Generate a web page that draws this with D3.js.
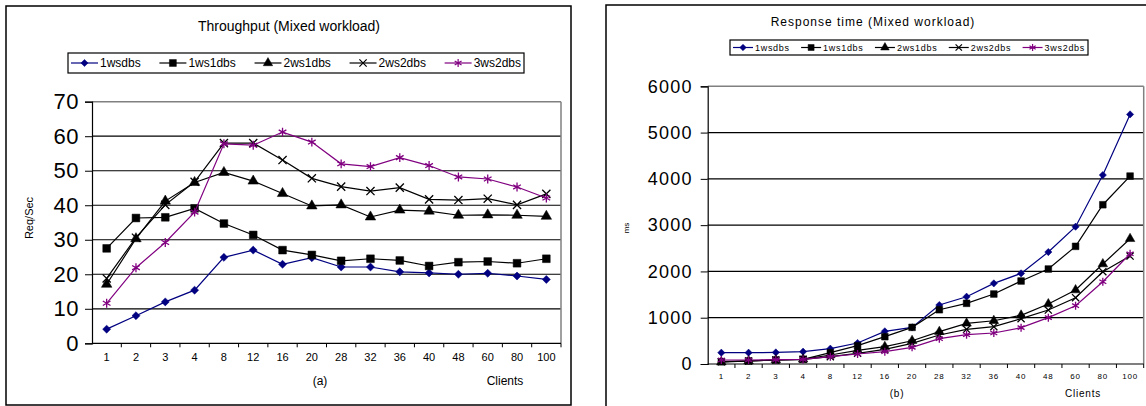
<!DOCTYPE html>
<html>
<head>
<meta charset="utf-8">
<script src="https://cdn.jsdelivr.net/npm/d3@7"></script>
<style>
body { margin: 0; background: #fff; }
svg { display: block; font-family: "Liberation Sans", Arial, sans-serif; }
</style>
</head>
<body>
<div id="chart"></div>
<script>
var clients = ["1","2","3","4","8","12","16","20","28","32","36","40","48","60","80","100"];
var seriesNames = ["1wsdbs","1ws1dbs","2ws1dbs","2ws2dbs","3ws2dbs"];

// throughput, req/sec
var tput1wsdbs  = [4.1, 8.0, 12.0, 15.4, 24.9, 27.0, 22.9, 24.8, 22.1, 22.1, 20.7, 20.4, 20.0, 20.3, 19.5, 18.5];
var tput1ws1dbs = [27.5, 36.3, 36.5, 39.1, 34.7, 31.4, 27.0, 25.6, 23.9, 24.5, 24.0, 22.4, 23.5, 23.7, 23.2, 24.5];
var tput2ws1dbs = [17.1, 30.3, 41.2, 46.6, 49.5, 47.0, 43.4, 39.8, 40.1, 36.6, 38.6, 38.3, 37.1, 37.2, 37.1, 36.8];
var tput2ws2dbs = [18.8, 30.6, 40.1, 46.8, 58.0, 58.0, 53.1, 47.8, 45.4, 44.1, 45.1, 41.7, 41.5, 41.9, 40.1, 43.3];
var tput3ws2dbs = [11.6, 21.9, 29.2, 38.0, 57.8, 57.4, 61.2, 58.3, 52.0, 51.2, 53.8, 51.5, 48.2, 47.6, 45.3, 42.1];
var tputTicks = [0, 10, 20, 30, 40, 50, 60, 70];

// response time, ms
var rt1wsdbs  = [244, 244, 250, 266, 331, 454, 706, 792, 1274, 1454, 1742, 1958, 2419, 2966, 4082, 5393];
var rt1ws1dbs = [50, 65, 86, 101, 244, 396, 590, 792, 1173, 1311, 1512, 1793, 2052, 2542, 3441, 4060];
var rt2ws1dbs = [40, 65, 86, 101, 194, 296, 374, 503, 698, 879, 935, 1052, 1296, 1598, 2160, 2706];
var rt2ws2dbs = [50, 65, 86, 101, 158, 231, 317, 447, 626, 749, 806, 979, 1166, 1432, 1994, 2333];
var rt3ws2dbs = [86, 86, 95, 100, 158, 216, 266, 360, 547, 633, 670, 785, 1001, 1260, 1778, 2383];
var rtTicks = [0, 1000, 2000, 3000, 4000, 5000, 6000];

var colors = ["#000080", "#000000", "#000000", "#000000", "#800080"];
// diamond is drawn as a square turned 45 degrees
var symbols = [d3.symbolSquare, d3.symbolSquare, d3.symbolTriangle, d3.symbolTimes, d3.symbolAsterisk];
var rotations = [45, 0, 0, 0, 0];
var filled = [true, true, true, false, false];

var svg = d3.select("#chart").append("svg")
	.attr("width", 1146)
	.attr("height", 406);

function drawChart(c) {
	var g = svg.append("g");

	// outer frame
	g.append("rect")
		.attr("x", c.frame[0]).attr("y", c.frame[1])
		.attr("width", c.frame[2]).attr("height", c.frame[3])
		.attr("fill", "none").attr("stroke", "#000").attr("stroke-width", 1.5);

	var x = d3.scaleBand().domain(clients).range([c.left, c.right]);
	var y = d3.scaleLinear().domain([0, c.ticks[c.ticks.length - 1]]).range([c.bottom, c.top]);

	// gridlines, the top one is the plot area border
	var last = c.ticks[c.ticks.length - 1];
	g.selectAll(".grid")
		.data(c.ticks.slice(1))
		.enter().append("line")
		.attr("x1", c.left).attr("x2", c.right)
		.attr("y1", function(d) { return y(d); })
		.attr("y2", function(d) { return y(d); })
		.attr("stroke", function(d) { return d === last ? "#808080" : "#000"; })
		.attr("stroke-width", function(d) { return d === last ? 1.5 : 1.2; });

	// plot area border (right side)
	g.append("line")
		.attr("x1", c.right).attr("x2", c.right)
		.attr("y1", c.top).attr("y2", c.bottom)
		.attr("stroke", "#808080").attr("stroke-width", 1.5);

	// y axis
	var yAxis = g.append("g")
		.attr("transform", "translate(" + c.left + ",0)")
		.call(d3.axisLeft(y).tickValues(c.ticks).tickFormat(d3.format("d")).tickSize(7).tickPadding(c.yPad));
	yAxis.select(".domain").attr("stroke", "#000").attr("stroke-width", 1.2);
	yAxis.selectAll("text")
		.attr("font-size", c.yFont)
		.attr("letter-spacing", c.yLs)
		.attr("fill", "#000");

	// x axis, ticks between categories
	var xAxis = g.append("g")
		.attr("transform", "translate(0," + c.bottom + ")");
	xAxis.append("line")
		.attr("x1", c.left).attr("x2", c.right)
		.attr("stroke", "#000").attr("stroke-width", 1.2);
	xAxis.selectAll(".tk")
		.data(clients)
		.enter().append("line")
		.attr("x1", function(d) { return x(d) + x.bandwidth(); })
		.attr("x2", function(d) { return x(d) + x.bandwidth(); })
		.attr("y1", 0).attr("y2", 4)
		.attr("stroke", "#000");
	xAxis.selectAll(".lbl")
		.data(clients)
		.enter().append("text")
		.attr("x", function(d) { return x(d) + x.bandwidth() / 2; })
		.attr("y", c.xLabelY)
		.attr("text-anchor", "middle")
		.attr("font-size", c.xFont)
		.attr("letter-spacing", c.xLs)
		.text(function(d) { return d; });

	g.append("text")
		.attr("x", c.subX).attr("y", c.subY)
		.attr("text-anchor", "middle")
		.attr("font-size", c.subFont)
		.attr("letter-spacing", c.xLs)
		.text(c.sub);
	g.append("text")
		.attr("x", c.clientsX).attr("y", c.subY)
		.attr("text-anchor", "middle")
		.attr("font-size", c.subFont)
		.attr("letter-spacing", c.xLs)
		.text("Clients");

	// y title
	g.append("text")
		.attr("transform", "translate(" + c.yTitleX + "," + c.yTitleY + ") rotate(-90)")
		.attr("text-anchor", "middle")
		.attr("font-size", c.yTitleFont)
		.text(c.yTitle);

	// chart title
	g.append("text")
		.attr("x", c.titleX).attr("y", c.titleY)
		.attr("text-anchor", "middle")
		.attr("font-size", c.titleFont)
		.attr("letter-spacing", c.titleLs)
		.text(c.title);

	// series
	var line = d3.line()
		.x(function(d, i) { return x(clients[i]) + x.bandwidth() / 2; })
		.y(function(d) { return y(d); });

	c.series.forEach(function(vals, s) {
		g.append("path")
			.attr("d", line(vals))
			.attr("fill", "none")
			.attr("stroke", colors[s])
			.attr("stroke-width", 1.2);
		g.selectAll(".m" + s)
			.data(vals)
			.enter().append("path")
			.attr("transform", function(d, i) {
				return "translate(" + (x(clients[i]) + x.bandwidth() / 2) + "," + y(d) + ") rotate(" + rotations[s] + ")";
			})
			.attr("d", d3.symbol().type(symbols[s]).size(c.markSize[s]))
			.attr("fill", filled[s] ? colors[s] : "none")
			.attr("stroke", colors[s])
			.attr("stroke-width", filled[s] ? 0.5 : 1.3);
	});

	// legend, items packed to fill the box
	var lg = g.append("g");
	lg.append("rect")
		.attr("x", c.legend[0]).attr("y", c.legend[1])
		.attr("width", c.legend[2]).attr("height", c.legend[3])
		.attr("fill", "#fff").attr("stroke", "#000").attr("stroke-width", 1.2);
	var cy = c.legend[1] + c.legend[3] / 2;
	var texts = seriesNames.map(function(name) {
		return lg.append("text")
			.attr("y", cy)
			.attr("dy", "0.36em")
			.attr("font-size", c.legFont)
			.attr("letter-spacing", c.legLs)
			.text(name);
	});
	var widths = texts.map(function(t) { return t.node().getComputedTextLength(); });
	var used = d3.sum(widths) + seriesNames.length * (c.legLine + 2);
	var gap = (c.legend[2] - 6 - used) / (seriesNames.length - 1);
	var x0 = c.legend[0] + 3;
	seriesNames.forEach(function(name, s) {
		lg.append("line")
			.attr("x1", x0).attr("x2", x0 + c.legLine)
			.attr("y1", cy).attr("y2", cy)
			.attr("stroke", colors[s]).attr("stroke-width", 1.2);
		lg.append("path")
			.attr("transform", "translate(" + (x0 + c.legLine / 2) + "," + cy + ") rotate(" + rotations[s] + ")")
			.attr("d", d3.symbol().type(symbols[s]).size(c.markSize[s] * 0.8))
			.attr("fill", filled[s] ? colors[s] : "none")
			.attr("stroke", colors[s])
			.attr("stroke-width", filled[s] ? 0.5 : 1.2);
		texts[s].attr("x", x0 + c.legLine + 2);
		x0 += c.legLine + 2 + widths[s] + gap;
	});
}

drawChart({
	frame: [6, 6, 565, 399],
	left: 92, right: 561, top: 101.7, bottom: 343.3,
	ticks: tputTicks,
	series: [tput1wsdbs, tput1ws1dbs, tput2ws1dbs, tput2ws2dbs, tput3ws2dbs],
	yFont: 22, yLs: 0.5, yPad: 6,
	xFont: 11, xLs: 0, xLabelY: 18,
	sub: "(a)", subX: 320, clientsX: 505, subY: 385, subFont: 12,
	yTitle: "Req/Sec", yTitleX: 33, yTitleY: 218, yTitleFont: 11,
	title: "Throughput (Mixed workload)", titleX: 289, titleY: 31, titleFont: 14, titleLs: 0,
	legend: [68, 53, 456, 20], legLine: 27, legFont: 12, legLs: 0,
	markSize: [32, 60, 48, 45, 55]
});

drawChart({
	frame: [606, 5, 560, 420],
	left: 707.7, right: 1143.7, top: 86.3, bottom: 364,
	ticks: rtTicks,
	series: [rt1wsdbs, rt1ws1dbs, rt2ws1dbs, rt2ws2dbs, rt3ws2dbs],
	yFont: 18, yLs: 1.2, yPad: 8,
	xFont: 8, xLs: 0.8, xLabelY: 15,
	sub: "(b)", subX: 897, clientsX: 1083, subY: 397, subFont: 10,
	yTitle: "ms", yTitleX: 629, yTitleY: 228, yTitleFont: 8,
	title: "Response time (Mixed workload)", titleX: 873, titleY: 26, titleFont: 12, titleLs: 1,
	legend: [730, 40, 358, 15], legLine: 20, legFont: 9, legLs: 0.7,
	markSize: [26, 45, 40, 35, 45]
});
</script>
</body>
</html>
